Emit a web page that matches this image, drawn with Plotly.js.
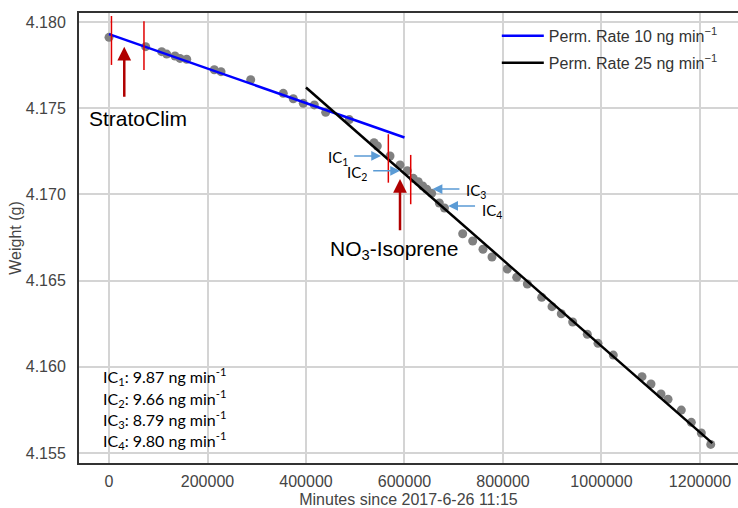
<!DOCTYPE html>
<html><head><meta charset="utf-8">
<script src="https://cdn.plot.ly/plotly-3.0.1.min.js"></script>
<style>html,body{margin:0;padding:0;background:#fff}#chart{width:738px;height:508px}</style>
</head><body><div id="chart"></div>
<script>
// Measured weights (g) vs minutes since 2017-6-26 11:15
const minutes = [0, 74500, 107000, 117200, 134000, 144200, 157800, 213800, 227400, 287700,
  353900, 374200, 394500, 416900, 440000, 487900, 538100, 544800, 570600, 590900,
  605700, 617900, 628000, 637000, 645100, 655200, 670700, 681200, 718200, 738500,
  759400, 777700, 808800, 827800, 849400, 878600, 899500, 918400, 941500, 971200,
  992900, 1024000, 1082300, 1100500, 1120800, 1135100, 1162100, 1182400, 1202700, 1221800];
const weight = [4.17911, 4.17857, 4.17828, 4.17814, 4.17803, 4.17789, 4.17784, 4.17723, 4.17712, 4.17665,
  4.17586, 4.17555, 4.17528, 4.17519, 4.17476, 4.17434, 4.17300, 4.17281, 4.17223, 4.17171,
  4.17137, 4.17093, 4.17074, 4.17049, 4.17030, 4.17006, 4.16950, 4.16921, 4.16772, 4.16730,
  4.16682, 4.16637, 4.16567, 4.16519, 4.16480, 4.16403, 4.16349, 4.16308, 4.16260, 4.16189,
  4.16136, 4.16068, 4.15943, 4.15900, 4.15842, 4.15812, 4.15749, 4.15678, 4.15616, 4.15550];
// Fitted permeation-rate lines
const fit10X = [0, 600000];
const fit10Y = [4.17930, 4.17330];
const fit25X = [400000, 1225000];
const fit25Y = [4.17620, 4.155575];
const legendNames = ['Perm. Rate 10 ng min<sup>−1</sup>', 'Perm. Rate 25 ng min<sup>−1</sup>'];
// Campaign windows (minutes) and their bracket ranges (g)
const stratoWindow = [5000, 71000];
const stratoTop = [4.18035, 4.18004];
const stratoBottom = [4.17751, 4.17722];
const no3Window = [567200, 612600];
const no3Top = [4.17349, 4.17229];
const no3Bottom = [4.17068, 4.16943];
const campaignNames = ['StratoClim', 'NO<sub>3</sub>-Isoprene'];
// Intercomparison periods
const icNames = ['IC<sub>1</sub>', 'IC<sub>2</sub>', 'IC<sub>3</sub>', 'IC<sub>4</sub>'];
const icRates = [9.87, 9.66, 8.79, 9.80];
const icMinutes = [552300, 590900, 657100, 688800];
const icWeights = [4.17223, 4.17137, 4.17031, 4.16933];
const xTicks = [0, 200000, 400000, 600000, 800000, 1000000, 1200000];
const yTicks = [4.155, 4.160, 4.165, 4.170, 4.175, 4.180];

const darkRed = '#b00000';
const brightRed = '#e00000';
const icBlue = '#5b9bd5';
const arialF = 'Liberation Sans, Arial, sans-serif';
const calF = 'Lato, Open Sans, sans-serif';

const traces = [
  {x: minutes, y: weight, type: 'scatter', mode: 'markers', showlegend: false,
   marker: {color: '#808080', size: 9}},
  {x: fit10X, y: fit10Y, type: 'scatter', mode: 'lines', name: legendNames[0],
   line: {color: '#0000ff', width: 2.5}, legend: 'legend'},
  {x: fit25X, y: fit25Y, type: 'scatter', mode: 'lines', name: legendNames[1],
   line: {color: '#000000', width: 2.5}, legend: 'legend2'}
];

const shapes = [];
stratoWindow.forEach((t, i) => shapes.push({type: 'line', xref: 'x', yref: 'y', x0: t, x1: t,
  y0: stratoBottom[i], y1: stratoTop[i], line: {color: brightRed, width: 1.5}}));
no3Window.forEach((t, i) => shapes.push({type: 'line', xref: 'x', yref: 'y', x0: t, x1: t,
  y0: no3Bottom[i], y1: no3Top[i], line: {color: brightRed, width: 1.5}}));

const annotations = [];
// campaign arrows
annotations.push({x: 31000, y: 4.17857, ax: 31000, ay: 4.17557, xref: 'x', yref: 'y', axref: 'x', ayref: 'y',
  showarrow: true, arrowhead: 2, arrowsize: 1.1, arrowwidth: 2.5, arrowcolor: darkRed, text: ''});
annotations.push({x: 590900, y: 4.17089, ax: 590900, ay: 4.16784, xref: 'x', yref: 'y', axref: 'x', ayref: 'y',
  showarrow: true, arrowhead: 2, arrowsize: 1.1, arrowwidth: 2.5, arrowcolor: darkRed, text: ''});
annotations.push({x: -44700, y: 4.17443, xref: 'x', yref: 'y', xanchor: 'left', yanchor: 'middle',
  showarrow: false, text: campaignNames[0], font: {family: arialF, size: 21, color: '#000'}});
annotations.push({x: 444600, y: 4.16675, xref: 'x', yref: 'y', xanchor: 'left', yanchor: 'middle',
  showarrow: false, text: campaignNames[1], font: {family: arialF, size: 21, color: '#000'}});
// IC arrows + labels
const icDir = [-1, -1, 1, 1];
const icLabelX = [489200, 527800, 720600, 753100];
const icLabelY = [4.17214, 4.17124, 4.17022, 4.16902];
icNames.forEach((n, i) => {
  annotations.push({x: icMinutes[i], y: icWeights[i], ax: icMinutes[i] + icDir[i] * 57500, ay: icWeights[i],
    xref: 'x', yref: 'y', axref: 'x', ayref: 'y', showarrow: true, arrowhead: 2, arrowsize: 1.3,
    arrowwidth: 1.5, arrowcolor: icBlue, text: ''});
  annotations.push({x: icLabelX[i], y: icLabelY[i], xref: 'x', yref: 'y',
    xanchor: icDir[i] < 0 ? 'right' : 'left', yanchor: 'middle', showarrow: false, text: n,
    font: {family: calF, size: 15, color: '#000'}});
});
// IC rates text
const rateY = [4.15941, 4.15819, 4.15697, 4.15575];
icNames.forEach((n, i) => {
  annotations.push({x: -16500, y: rateY[i], xref: 'x', yref: 'y', xanchor: 'left', yanchor: 'middle',
    showarrow: false, text: n + ': ' + icRates[i].toFixed(2) + ' ng min<sup>-1</sup>',
    font: {family: calF, size: 16, color: '#000'}});
});

const axisCommon = {showgrid: true, gridcolor: '#d4d4d4', gridwidth: 1.5, zeroline: false,
  showline: true, linecolor: '#333', linewidth: 2, ticks: '',
  tickfont: {family: arialF, size: 16, color: '#444'}};

const layout = {
  width: 738, height: 508,
  margin: {l: 79, r: 0, t: 13, b: 45},
  paper_bgcolor: '#fff', plot_bgcolor: '#fff',
  xaxis: Object.assign({}, axisCommon, {range: [-60915, 1277200], tickvals: xTicks,
    ticktext: xTicks.map(v => String(v)), mirror: true, ticklabelstandoff: 3,
    title: {text: 'Minutes since 2017-6-26 11:15', font: {family: arialF, size: 16, color: '#444'}, standoff: 10}}),
  yaxis: Object.assign({}, axisCommon, {range: [4.15442, 4.180522], tickvals: yTicks,
    ticktext: yTicks.map(v => v.toFixed(3)), ticklabelstandoff: 8,
    title: {text: 'Weight (g)', font: {family: arialF, size: 16, color: '#444'}, standoff: 0}}),
  legend: {x: 0.634, y: 0.949, xanchor: 'left', yanchor: 'middle', bgcolor: 'rgba(0,0,0,0)',
    font: {family: arialF, size: 16, color: '#333'}, itemwidth: 42},
  legend2: {x: 0.634, y: 0.889, xanchor: 'left', yanchor: 'middle', bgcolor: 'rgba(0,0,0,0)',
    font: {family: arialF, size: 16, color: '#333'}, itemwidth: 42},
  shapes: shapes,
  annotations: annotations
};

Plotly.newPlot('chart', traces, layout, {displayModeBar: false, responsive: false});
</script>
</body></html>
